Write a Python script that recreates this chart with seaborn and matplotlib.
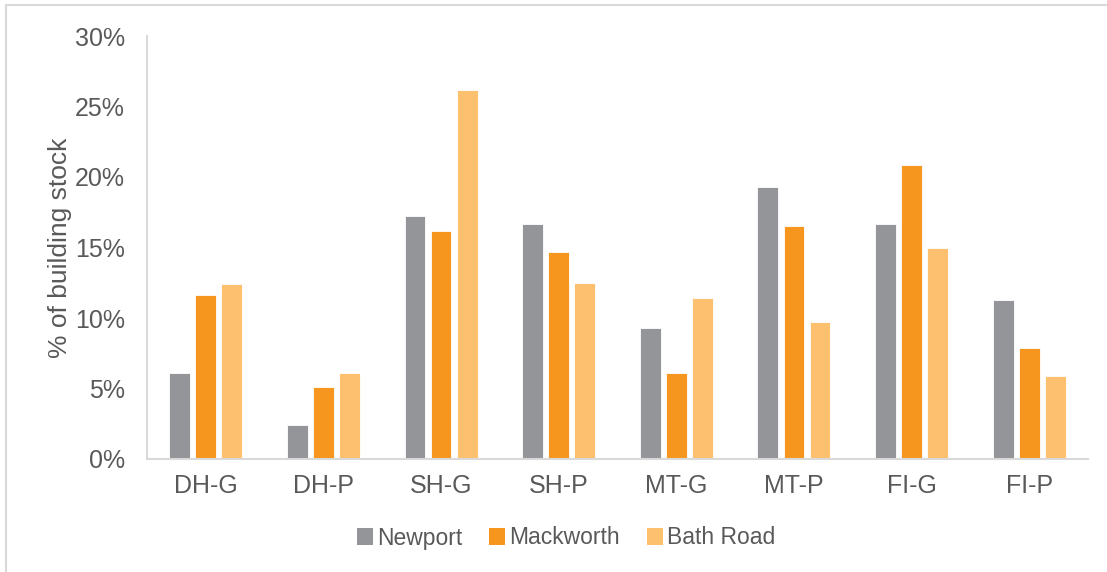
import matplotlib
matplotlib.use("Agg")
import matplotlib.pyplot as plt
import seaborn as sns
import pandas as pd
from matplotlib.patches import Patch
from matplotlib.lines import Line2D
from matplotlib.ticker import FuncFormatter

categories = ["DH-G", "DH-P", "SH-G", "SH-P", "MT-G", "MT-P", "FI-G", "FI-P"]
newport = [6.1, 2.4, 17.2, 16.7, 9.3, 19.3, 16.7, 11.3]
mackworth = [11.6, 5.1, 16.2, 14.7, 6.1, 16.5, 20.85, 7.9]
bath_road = [12.4, 6.1, 26.2, 12.5, 11.4, 9.7, 15.0, 5.9]
series_names = ["Newport", "Mackworth", "Bath Road"]
colors = ["#939598", "#F7961E", "#FDC06F"]
y_ticks = [0, 5, 10, 15, 20, 25, 30]

rows = []
for name, vals in zip(series_names, [newport, mackworth, bath_road]):
    for c, v in zip(categories, vals):
        rows.append({"cat": c, "series": name, "val": v})
df = pd.DataFrame(rows)

sns.set_theme(style="white")
plt.rcParams["font.family"] = ["Liberation Sans", "DejaVu Sans"]
txt = "#595959"

fig = plt.figure(figsize=(11.07, 5.72), dpi=100)
ax = fig.add_axes([147/1107, 1 - 459/572, (1088-147)/1107, (459-36)/572])

sns.barplot(data=df, x="cat", y="val", hue="series", order=categories,
            hue_order=series_names, palette=colors, width=0.665, gap=0.2,
            saturation=1, edgecolor="white", linewidth=0.6, ax=ax, legend=False)

ax.set_ylim(0, 30)
ax.set_xlim(-0.5, len(categories) - 0.5)
ax.set_yticks(y_ticks)
ax.yaxis.set_major_formatter(FuncFormatter(lambda v, p: f"{int(v)}%"))
ax.tick_params(axis="both", length=0, labelsize=18, labelcolor=txt)
ax.tick_params(axis="x", pad=11)
ax.tick_params(axis="y", pad=16)
ax.set_xlabel("")
ax.set_ylabel("% of building stock", fontsize=19, color=txt, labelpad=2)
for s in ["top", "right"]:
    ax.spines[s].set_visible(False)
for s in ["left", "bottom"]:
    ax.spines[s].set_color("#D9D9D9")
    ax.spines[s].set_linewidth(1.5)

handles = [Patch(facecolor=c, edgecolor="none") for c in colors]
fig.legend(handles, series_names, loc="center", bbox_to_anchor=(566/1107, 1 - 538/572),
           ncol=3, frameon=False, fontsize=16.5, labelcolor=txt,
           handlelength=0.7, handleheight=0.7, handletextpad=0.15, columnspacing=1.2)

# outer frame lines (left and top)
fig.add_artist(Line2D([6/1107, 6/1107], [0, 1 - 5/572], transform=fig.transFigure, color="#D9D9D9", lw=1.5))
fig.add_artist(Line2D([6/1107, 1], [1 - 5/572, 1 - 5/572], transform=fig.transFigure, color="#D9D9D9", lw=1.5))

fig.savefig("out.png", dpi=100)
